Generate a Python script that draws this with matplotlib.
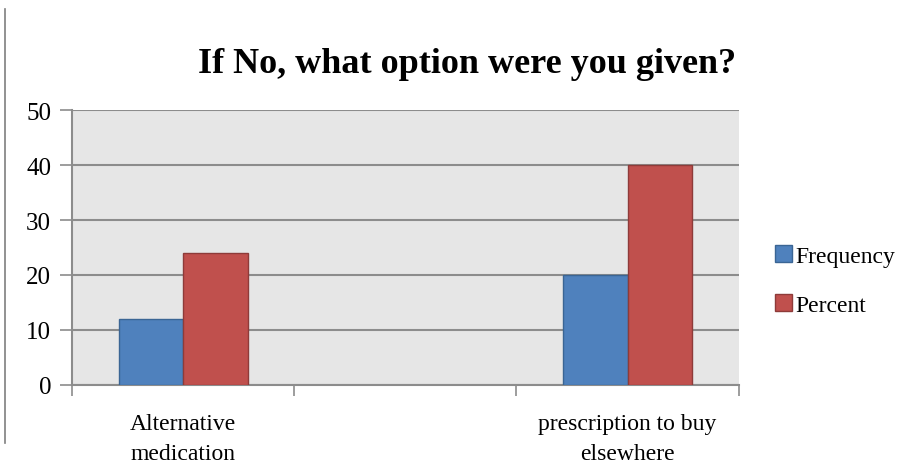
import matplotlib
matplotlib.use("Agg")
import matplotlib.pyplot as plt
from matplotlib.lines import Line2D
from matplotlib.patches import Patch
import numpy as np

# survey answers: the blank middle slot is an empty category
categories = ["Alternative\nmedication", "", "prescription to buy\nelsewhere"]
frequency = [12, np.nan, 20]
percent = [24, np.nan, 40]
series_names = ["Frequency", "Percent"]
y_ticks = [0, 10, 20, 30, 40, 50]

blue, blue_edge = "#4F81BD", "#3A6594"
red, red_edge = "#C0504D", "#8E3B39"
grid_col = "#8C8C8C"

plt.rcParams["font.family"] = ["Liberation Serif", "DejaVu Serif"]

fig = plt.figure(figsize=(9.17, 4.77), dpi=100)
ax = fig.add_axes([0.0785, 0.191, 0.727, 0.576])
ax.set_facecolor("#E6E6E6")

x = np.arange(len(categories))
w = 0.29
ax.bar(x - w / 2, frequency, w, color=blue, edgecolor=blue_edge, linewidth=1, zorder=3)
ax.bar(x + w / 2, percent, w, color=red, edgecolor=red_edge, linewidth=1, zorder=3)

ax.set_xlim(-0.5, len(categories) - 0.5)
ax.set_ylim(0, 50)
ax.set_yticks(y_ticks)
ax.yaxis.grid(True, color=grid_col, linewidth=1.5, zorder=1)
ax.set_axisbelow(True)

# category labels in the middle, tick marks on the boundaries
ax.set_xticks(x)
ax.set_xticklabels(categories, linespacing=1.6)
ax.set_xticks(np.arange(len(categories) + 1) - 0.5, minor=True)
ax.tick_params(axis="x", which="major", length=0, pad=20, labelsize=17)
ax.tick_params(axis="x", which="minor", length=8, width=1.2, color=grid_col, direction="out")
ax.tick_params(axis="y", length=9, width=1.2, color=grid_col, direction="out", pad=6, labelsize=18)

for side in ["top", "right"]:
    ax.spines[side].set_visible(False)
for side in ["left", "bottom"]:
    ax.spines[side].set_color(grid_col)
    ax.spines[side].set_linewidth(1.5)

fig.text(0.509, 0.865, "If No, what option were you given?", ha="center", va="center",
         fontsize=26, fontweight="bold")

handles = [Patch(facecolor=blue, edgecolor=blue_edge), Patch(facecolor=red, edgecolor=red_edge)]
fig.legend(handles, series_names, loc="center left", bbox_to_anchor=(0.835, 0.41),
           frameon=False, fontsize=17, handlelength=0.7, handleheight=0.7,
           handletextpad=0.15, labelspacing=1.15, borderaxespad=0)

# thin rule down the left edge of the page
fig.add_artist(Line2D([0.0055, 0.0055], [0.07, 0.98], color="#7F7F7F", linewidth=1.2))

fig.savefig("out.png", dpi=100)
